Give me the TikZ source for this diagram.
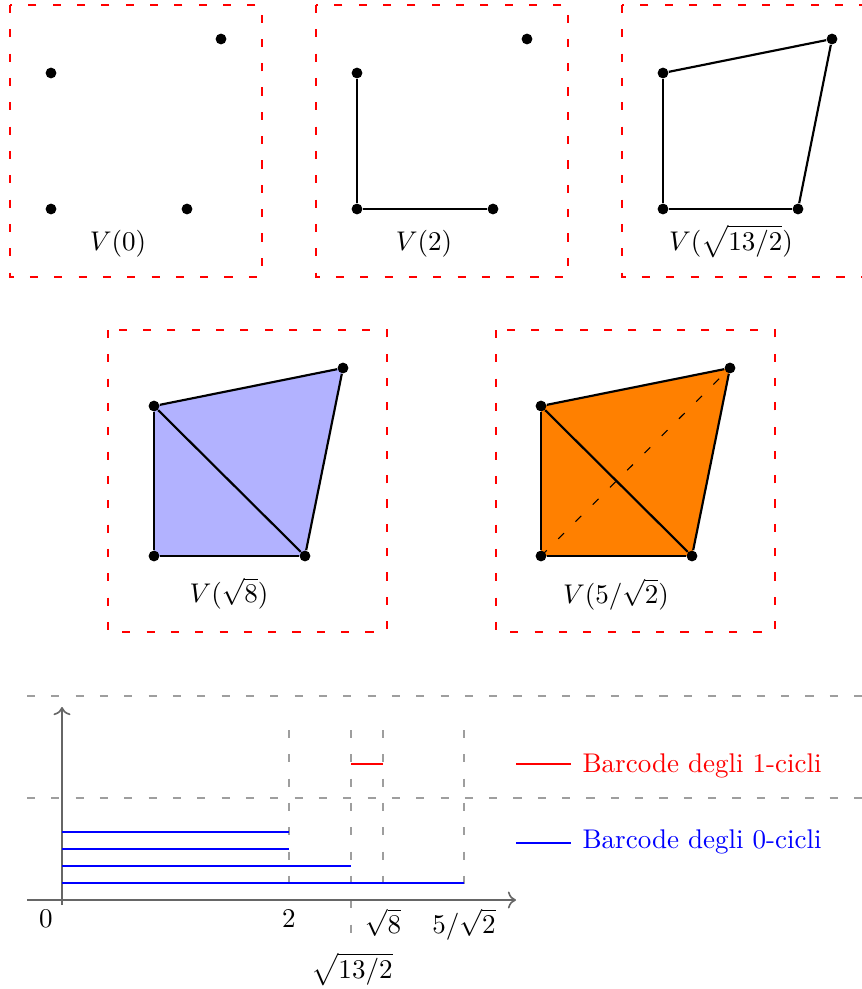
\documentclass[tikz,border=0pt]{standalone}
\usetikzlibrary{arrows.meta}
\begin{document}
\begin{tikzpicture}[x=0.37pt,y=-0.37pt]
\tikzset{
  frame/.style={red, loosely dashed, thin},
  dot/.style={circle, fill=black, inner sep=0pt, minimum size=4pt},
  edgeline/.style={thick, line join=round},
  gridline/.style={black!38, loosely dashed, semithin},
  semithin/.style={line width=0.5pt},
  axisline/.style={black!60, semithick},
  barzero/.style={blue, thick},
  barone/.style={red, thick},
  lab/.style={anchor=base},
}
\clip (0,0) rectangle (862,989);
\useasboundingbox (0,0) rectangle (862,989);

% ---------- panel 1 ----------
\draw[frame] (10,5) rectangle (262,277);
\node[dot] (a1) at (51,73) {};
\node[dot] (a2) at (221,39) {};
\node[dot] (a3) at (51,209) {};
\node[dot] (a4) at (187,209) {};
\node[lab] (la) at (118,250) {$V(0)$};

% ---------- panel 2 ----------
\draw[frame] (316,5) rectangle (568,277);
\node[dot] (b1) at (357,73) {};
\node[dot] (b2) at (527,39) {};
\node[dot] (b3) at (357,209) {};
\node[dot] (b4) at (493,209) {};
\draw[edgeline] (b1) -- (b3);
\draw[edgeline] (b3) -- (b4);
\node[lab] (lb) at (424,250) {$V(2)$};

% ---------- panel 3 ----------
\draw[frame] (622,5) rectangle (874,277);
\node[dot] (c1) at (663,73) {};
\node[dot] (c2) at (832,39) {};
\node[dot] (c3) at (663,209) {};
\node[dot] (c4) at (798,209) {};
\draw[edgeline] (c1) -- (c3);
\draw[edgeline] (c3) -- (c4);
\draw[edgeline] (c4) -- (c2);
\draw[edgeline] (c2) -- (c1);
\node[lab] (lc) at (731,250) {$V(\sqrt{13/2})$};

% ---------- panel 4 ----------
\draw[frame] (108,330) rectangle (387,632);
\coordinate (pd1) at (154,406);
\coordinate (pd2) at (343,368);
\coordinate (pd3) at (154,556);
\coordinate (pd4) at (305,556);
\fill[blue!30] (pd1) -- (pd2) -- (pd4) -- (pd3) -- cycle;
\node[dot] (d1) at (pd1) {};
\node[dot] (d2) at (pd2) {};
\node[dot] (d3) at (pd3) {};
\node[dot] (d4) at (pd4) {};
\draw[edgeline] (d1) -- (d3);
\draw[edgeline] (d3) -- (d4);
\draw[edgeline] (d4) -- (d2);
\draw[edgeline] (d2) -- (d1);
\draw[edgeline] (d1) -- (d4);
\node[lab] (ld) at (229,602) {$V(\sqrt{8})$};

% ---------- panel 5 ----------
\draw[frame] (496,330) rectangle (775,632);
\coordinate (pe1) at (541,406);
\coordinate (pe2) at (730,368);
\coordinate (pe3) at (541,556);
\coordinate (pe4) at (692,556);
\fill[orange] (pe1) -- (pe2) -- (pe4) -- (pe3) -- cycle;
\node[dot] (e1) at (pe1) {};
\node[dot] (e2) at (pe2) {};
\node[dot] (e3) at (pe3) {};
\node[dot] (e4) at (pe4) {};
\draw[loosely dashed, thin] (e3.center) -- (e2.center);
\draw[edgeline] (e1) -- (e3);
\draw[edgeline] (e3) -- (e4);
\draw[edgeline] (e4) -- (e2);
\draw[edgeline] (e2) -- (e1);
\draw[edgeline] (e1) -- (e4);
\node[lab] (le) at (616,603) {$V(5/\sqrt{2})$};

% ---------- barcode ----------
\coordinate (h1a) at (27,696);
\coordinate (h1b) at (862,696);
\coordinate (h2a) at (27,798);
\coordinate (h2b) at (862,798);
\draw[gridline] (h1a) -- (h1b);
\draw[gridline] (h2a) -- (h2b);

\coordinate (t2) at (289,730);
\coordinate (t2b) at (289,900);
\coordinate (t13) at (351,730);
\coordinate (t13b) at (351,945);
\coordinate (t8) at (383,730);
\coordinate (t8b) at (383,900);
\coordinate (t5) at (464,730);
\coordinate (t5b) at (464,900);
\draw[gridline] (t2) -- (t2b);
\draw[gridline] (t13) -- (t13b);
\draw[gridline] (t8) -- (t8b);
\draw[gridline] (t5) -- (t5b);

\coordinate (xa) at (27,900);
\coordinate (xb) at (516,900);
\coordinate (ya) at (62,905);
\coordinate (yb) at (62,707);
\draw[axisline, -{To[length=3pt]}] (xa) -- (xb);
\draw[axisline, -{To[length=3pt]}] (ya) -- (yb);

% bars
\coordinate (b0s1) at (62,832);  \coordinate (b0e1) at (289,832);
\coordinate (b0s2) at (62,849);  \coordinate (b0e2) at (289,849);
\coordinate (b0s3) at (62,866);  \coordinate (b0e3) at (351,866);
\coordinate (b0s4) at (62,883);  \coordinate (b0e4) at (464,883);
\draw[barzero] (b0s1) -- (b0e1);
\draw[barzero] (b0s2) -- (b0e2);
\draw[barzero] (b0s3) -- (b0e3);
\draw[barzero] (b0s4) -- (b0e4);
\coordinate (b1s) at (351,764); \coordinate (b1e) at (383,764);
\draw[barone] (b1s) -- (b1e);

% tick labels
\node[lab] (n0) at (46,927) {$0$};
\node[lab] (n2) at (289,927) {$2$};
\node[lab] (n8) at (383,933) {$\sqrt{8}$};
\node[lab] (n5) at (464,933) {$5/\sqrt{2}$};
\node[lab] (n13) at (352,978) {$\sqrt{13/2}$};

% legend
\coordinate (lr1) at (516,764); \coordinate (lr2) at (571,764);
\draw[barone] (lr1) -- (lr2);
\node[lab, anchor=base west, red, inner sep=0pt] (tr) at (582,772) {Barcode degli 1-cicli};
\coordinate (lb1) at (516,843); \coordinate (lb2) at (571,843);
\draw[barzero] (lb1) -- (lb2);
\node[lab, anchor=base west, blue, inner sep=0pt] (tb) at (582,848) {Barcode degli 0-cicli};
\end{tikzpicture}
\end{document}
